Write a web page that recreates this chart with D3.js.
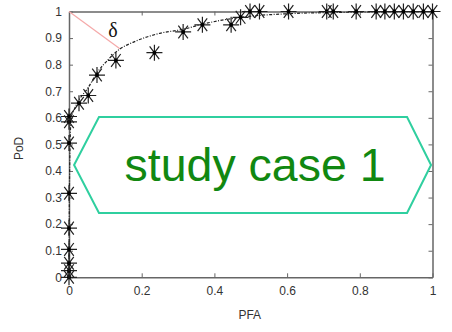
<!DOCTYPE html>
<html>
<head>
<meta charset="utf-8">
<script src="https://cdn.jsdelivr.net/npm/d3@7"></script>
<style>
  body { margin: 0; background: #fff; }
  svg { display: block; }
  .axis text { font-family: "Liberation Sans", Arial, sans-serif; font-size: 12px; fill: #333; }
  .axis path, .axis line { stroke: #666; }
  .label { font-family: "Liberation Sans", Arial, sans-serif; font-size: 12px; fill: #333; }
</style>
</head>
<body>
<script>
// measured ROC points (PFA, PoD)
const pfa = [0, 0, 0, 0, 0, 0, 0, 0, 0, 0.0275, 0.053, 0.077, 0.129, 0.235, 0.314, 0.367, 0.446, 0.472,
    0.498, 0.524, 0.604, 0.709, 0.727, 0.79, 0.845, 0.869, 0.895, 0.92, 0.947, 0.975, 1.0]
const pod = [0, 0.025, 0.053, 0.105, 0.185, 0.316, 0.505, 0.585, 0.605, 0.655, 0.684, 0.761, 0.816, 0.845, 0.923,
    0.95, 0.95, 0.978, 1, 1, 1, 1, 1, 1, 1, 1, 1, 1, 1, 1, 1]

// fitted curve
const fitX = [0, 0.001, 0.003, 0.006, 0.014, 0.0275, 0.052, 0.077, 0.107, 0.14, 0.176, 0.25, 0.314, 0.366, 0.472, 0.608, 0.718, 1]
const fitY = [0, 0.3, 0.5, 0.6, 0.63, 0.667, 0.712, 0.769, 0.818, 0.859, 0.884, 0.918, 0.933, 0.952, 0.978, 0.992, 0.996, 1]

// delta annotation (from corner to curve)
const deltaX = [0, 0.14]
const deltaY = [1, 0.86]

// callout hexagon
const hexX = [0.014, 0.0825, 0.93, 0.996, 0.93, 0.0825]
const hexY = [0.4225, 0.603, 0.603, 0.4225, 0.242, 0.242]

const xTicks = [0, 0.2, 0.4, 0.6, 0.8, 1]
const yTicks = [0, 0.1, 0.2, 0.3, 0.4, 0.5, 0.6, 0.7, 0.8, 0.9, 1]

let margin = { top: 11.5, right: 19.5, bottom: 54.7, left: 69 },
    width = 452 - margin.left - margin.right,
    height = 332 - margin.top - margin.bottom;

const svg = d3.select("body").append("svg")
    .attr("width", 452)
    .attr("height", 332)
    .append("g")
    .attr("transform", `translate(${margin.left},${margin.top})`)

const x = d3.scaleLinear().domain([0, 1]).range([0, width])
const y = d3.scaleLinear().domain([0, 1]).range([height, 0])

const fmt = d => d === 0 || d === 1 ? String(d) : d3.format(".1f")(d)

// box + ticks (inward on all four sides)
const ax = svg.append("g")
ax.append("g").attr("class", "axis").attr("transform", `translate(0,${height})`)
    .call(d3.axisBottom(x).tickValues(xTicks).tickSize(-4).tickSizeOuter(0).tickPadding(9).tickFormat(fmt))
ax.append("g").attr("class", "axis")
    .call(d3.axisTop(x).tickValues(xTicks).tickSize(-4).tickSizeOuter(0).tickFormat(""))
ax.append("g").attr("class", "axis")
    .call(d3.axisLeft(y).tickValues(yTicks).tickSize(-4).tickSizeOuter(0).tickPadding(7).tickFormat(fmt))
ax.append("g").attr("class", "axis").attr("transform", `translate(${width},0)`)
    .call(d3.axisRight(y).tickValues(yTicks).tickSize(-4).tickSizeOuter(0).tickFormat(""))
ax.selectAll(".domain").attr("stroke-width", 1.5)

svg.append("text").attr("class", "label")
    .attr("text-anchor", "middle")
    .attr("x", x(0.5) - 1)
    .attr("y", height + 42)
    .text("PFA")
svg.append("text").attr("class", "label")
    .attr("text-anchor", "middle")
    .attr("transform", `translate(${23 - margin.left},${y(0.5) + 4}) rotate(-90)`)
    .text("PoD")

// delta line
svg.append("line")
    .attr("x1", x(deltaX[0])).attr("y1", y(deltaY[0]))
    .attr("x2", x(deltaX[1])).attr("y2", y(deltaY[1]))
    .attr("stroke", "#f5a9a9").attr("stroke-width", 1.2)
svg.append("text")
    .attr("x", x(0.121)).attr("y", y(0.905))
    .attr("text-anchor", "middle")
    .style("font-family", "'Liberation Serif', 'Times New Roman', serif")
    .style("font-size", "20px")
    .attr("fill", "#111")
    .text("δ")

// fitted curve
const fit = fitX.map((v, i) => ({ x: v, y: fitY[i] }))
svg.append("path").datum(fit)
    .attr("fill", "none")
    .attr("stroke", "#222")
    .attr("stroke-width", 1.2)
    .attr("stroke-dasharray", "3,1.5,1,1.5")
    .attr("d", d3.line().x(d => x(d.x)).y(d => y(d.y)).curve(d3.curveMonotoneX))

// asterisk markers
const pts = pfa.map((v, i) => ({ x: v, y: pod[i] }))
const r = 8
const star = `M${-r},0L${r},0M0,${-r}L0,${r}M${-r * 0.6},${-r * 0.8}L${r * 0.6},${r * 0.8}M${-r * 0.6},${r * 0.8}L${r * 0.6},${-r * 0.8}`
const mk = svg.append("g").selectAll("g").data(pts).enter().append("g")
    .attr("transform", d => `translate(${x(d.x)},${y(d.y)})`)
mk.append("path").attr("d", star).attr("stroke", "#222").attr("stroke-width", 1.2).attr("fill", "none")
mk.append("circle").attr("r", 2).attr("fill", "#000")

// callout
const hex = hexX.map((v, i) => [x(v), y(hexY[i])])
svg.append("path")
    .attr("d", d3.line()(hex) + "Z")
    .attr("fill", "#fff")
    .attr("stroke", "#2fcf9f")
    .attr("stroke-width", 2)
svg.append("text")
    .attr("x", x(0.512)).attr("y", y(0.4225) + 16)
    .attr("text-anchor", "middle")
    .style("font-family", "'Liberation Sans', Arial, sans-serif")
    .style("font-size", "46.5px")
    .attr("fill", "#118811")
    .text("study case 1")
</script>
</body>
</html>
